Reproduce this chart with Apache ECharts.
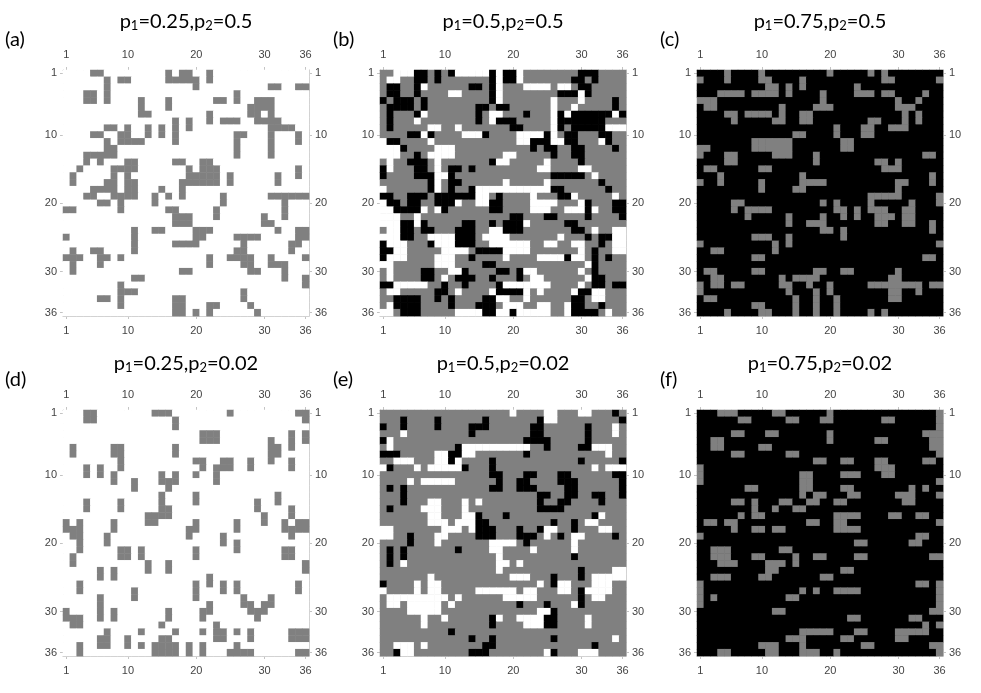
<!DOCTYPE html>
<html><head><meta charset="utf-8">
<script src="https://cdn.jsdelivr.net/npm/echarts/dist/echarts.min.js"></script>
<style>html,body{margin:0;padding:0;background:#fff}#c{width:981px;height:693px}</style>
</head><body><div id="c"></div><script>
const N = 36;
const categories = Array.from({length: N}, (_, i) => String(i + 1));
const tickLabels = ['1', '10', '20', '30', '36'];
const titleP1 = ['0.25', '0.5', '0.75', '0.25', '0.5', '0.75'];
const titleP2 = ['0.5', '0.5', '0.5', '0.02', '0.02', '0.02'];
const panelLetters = ['(a)', '(b)', '(c)', '(d)', '(e)', '(f)'];

// values: 0 = white, 1 = gray, 2 = black
const aGray = [
[4,5,15,17,18,21],[6,8,9,15,16,17,18,19,21],[6,19,30,31,34,35],[3,4,6,25],
[3,4,6,11,15,22,23,25,28,29,30],[11,15,27,28,29,30],[11,12,21,27,28,30],
[16,18,21,23,24,25,28,29,30,31],[6,7,9,12,14,16,18,30,31,32,33],
[4,5,8,9,12,14,16,25,26,30,34],[6,8,9,10,11,16,25,30,34],[6,7,25,30],
[3,4,5,6,7,25,30],[3,5,9,10,16,17,20,21],[2,7,8,9,10,18,20,21,22,34],
[1,7,9,18,19,20,21,22,24,31,34],[1,6,7,9,10,17,18,19,20,21,22,24,31],
[4,5,6,7,9,10,14,17],[3,4,7,8,9,10,13,15,17,23,30,31,32,33,34,35],
[5,6,8,13,23,32],[0,1,8,15,16,22,32],[16,17,18,22,29,32],[16,17,18,29,30],
[10,13,14,19,20,21,31,34,35],[0,10,19,20,25,26,27,28,34,35],[10,16,17,18,19,26,33,34],
[1,4,5,10,25,26,33],[0,1,2,5,6,8,21,24,25,26,27,30,35],[1,5,21,26,27,30,31,32],
[1,17,18,27,28,32],[10,11,32,35],[8,35],[8,9,10,26],[5,6,8,16,17,26],
[8,16,17,21,22,27],[16,17,19,21,28]];

const bWhite = [
[2,3,4,11,12,13,14,15,17,20],[1,2,17,20],[6,17,21,22,23,24,26,27],[10,11,17,29],
[17,25,29],[25,28],[6,16,17,25,27,34],[5,16,25],[7,8,11,25,33,34,35],
[6,12,13,14,20,21,22,23,25],[0,7,20,21,25,26,32],[0,1,2,8,9,10],
[0,1,2,7,8,9,10,18,19],[1,8,17,18,24],[1,8,23,24,29,30],[8,9,31],[8,18,24],
[0,8,14,15,16,17,18,19,20,21,22,23,24],[14,15,22,28,34],[0,11,14,15,22,23,24,25,29],
[0,1,6,8,22,23,24,27,28,29,31],[0,1,2,5],[0,1,2,5,21],[1,2,16,17,31,34,35],
[0,1,2,7,8,9,10,15,16,17,18,26,34,35],[1,2,3,8,9,10,16,17,18,19,20,21,24,25,28,29,34,35],
[2,3,9,10,11,12,18,19,20,21,29,34,35],[1,2,3,8,9,10,18,23,24,25,26,28,29],
[0,1,8,9,10,30],[1,10,11,21,22,29],[1,9,22,23,30],[2,3,4,5,6,18,19,20,21,22,23,24,29],
[1,2,11,16,21,23,28,31,32],[17,18,21,31,32],[1,18,19,20,23,24,27],
[0,1,11,12,13,14,17,18,20,21,22,23,24,27,33]];
const bBlack = [
[5,6,8,10,16,18,19,29,30,31],[5,6,8,16,18,19,28,29,31],[1,2,5,13,14,16,29,30],
[1,2,5,16,26,27,28,30],[0,2,3,4,6,16,34],[1,2,3,4,6,14,15,17,18,34],
[1,5,14,21,26,28,29,30,31,32,33,35],[1,14,17,18,19,26,27,28,29,30,31,32],
[1,19,20,26,28,29,30,31,32],[4,5,7,15,24,27,28,32,33],[1,2,22,23,24,27,28,33],
[3,22,24,25,28,29,34],[5,25,28,29],[4,5,6,16,29],[0,5,6,10,11,13],
[0,5,6,7,10,25,26,27,28,29],[7,10,11,32],[7,10,13,25,26,33],
[0,1,4,5,6,8,9,10,11,12,13,17,26,27],[1,2,4,5,8,9,10,16,17,30,34,35],
[2,3,4,5,9,16,17,30,34,35],[19,20,24,25,30,35],[3,4,6,12,13,16,18,19,20,27,28],
[3,4,6,7,11,12,13,18,19,20,28,29],[3,4,11,12,13,30,32,33],[0,7,11,12,13,32],
[0,1,14,15,16,17,31],[0,13,27,31,33],[15,16,31],[6,7,12,17,18,20,31],
[6,7,11,12,13,16,20,31,32],[0,1,9,12,17,31,32,34,35],[8,9,17,18,19,20,29,30],
[2,3,4,5,8,10,15,16,28,29],[2,3,4,5,10,14,15,16,28,29,32],[3,4,5,15,16,19,28,29,30,31]];

const cGray = [
[4,9,19,25,27],[0,4,9,10,15,27,28,35],[10,11,13,15,23],
[3,4,5,6,8,9,10,11,13,18,23,24,25,27,28,33],[0,1,2,18,29,32],[1,2,12,17,18,19,29,30,31],
[4,5,7,8,9,10,12,15,16,30,32],[5,11,12,15,16,25,26,30,32],[20,24,25,28,29,30],
[14,15,20,24,25],[8,9,10,11,12,13,21,22],[0,1,8,9,10,11,12,13,21,22],
[0,4,5,11,12,13,17,33,34],[4,5,17,26,27,29],[1,2,9,10,27,28,29],[3,15,34],
[0,3,9,15,16,17,18,29,30,34],[9,14,15,29],[25,26,27,28,29,35],[5,6,18,20,25,31,35],
[5,7,8,9,10,20,21,23,25,26,27,30,31],[7,13,18,21,23,26,27,28,30,31],
[13,16,17,18,26,27,30,31,34],[18,19,21,34],[8,9,10,13,21],[0,11,13,35],[2,3,11],
[8,9,33,34],[],[1,2,8,9,17,18,21,22,29],[2,3,12,14,15,16,17,28,29],
[0,2,3,5,6,12,13,16,19,25,26,27,28,29,30,31,32,34,35],[0,13,17,19,28,29,32],
[1,2,14,17,20,28,29],[8,9,14,17,20],[4,9,10,14,17,20,25,27]];

const dGray = [
[3,4,13,14,15,24,34,35],[3,4,16,35],[16],[20,21,22,33,35],[20,21,22,30,33,35],
[1,7,8,16,30,31,33],[1,7,8,16,30,31],[8,19,20,23,24,27,30,33],[3,5,8,20,22,23,24,27,33],
[3,5,7,14,16,19,22],[7,10,14,15,16,22],[10,15],[14,19,31],[3,8,14,19,28,31],
[3,8,14,15,28,33],[12,13,14,15,29,33],[0,2,7,12,13,19,25,29,32,34,35],
[0,1,2,7,18,19,25,32,33,34,35],[1,2,6,18,23,33],[2,6,23,25],[2,8,9,11,19,25,32,33],
[1,8,9,11,19,32,33],[1,12,15,35],[5,7,12,15,35],[5,7,21],[2,19,21,23,25,34],
[2,10,19,23,25,34],[5,10,19,26,30],[5,21,26,27,29,30],[0,5,7,15,20,21,27,28,29],
[0,1,2,5,7,15,20,28],[1,2,14,22],[6,11,16,20,22,23,25,27,33,34,35],
[5,6,9,14,15,22,23,27,33,34,35],[2,5,6,9,11,13,14,15,16,18,20,25],
[2,13,14,15,16,18,20,24,25,26,27,34,35]];

const eWhite = [
[19,24,25,29,30],[24,25],[34],[3,34],[1],[1,12,13,14,15,16,17,18,19,20,21,31,32,33],
[8,9,12,13,33],[2,3,4,8,9,11],[0,5,7,8,9,10,11,31,33,34,35],[],[4,6,7,8,9,10],[],[],
[7,8,12,14],[6,7,8,12],[7,8,12,13,32],[7,8,9,11,12,13,30,31],[0,1,9,10,11,13,24,25,32,33],
[0,1,8,9,24,28,29],[8,16,17,18,19,28],[16,17,22,28],[17],[3,17,18,20],[17,34,35],
[7,19,20,21,31,32,33,34,35],[5,7,8,23,26,27,31,32,33],
[0,5,7,8,14,15,16,17,18,19,21,22,26,27,30,31,32,33],
[1,2,3,4,5,6,7,8,9,11,18,19,20,21,22,31,32],[1,2,4,5,6,7,8,10,28],[4,5,6,7,8,23,24],
[6,9,17,20,21,22,23,30],[6,21,22,23,30],[],[34],[2,3,4,6],[3,4,24,29,30,31]];
const eBlack = [
[34],[3,8,15,23,35],[0,3,8,13,14,15,22,23,30],[13,22,23,30],[0,21,22,23,24,30],
[11,24,29,30],[0,1,2,10,11,21],[10,16,29,35],[1,12,16],[16,17,21,22,26,27,34,35],
[17,20,21,26,27,28,35],[1,3,16,17,20,21,22,27,28,35],[3,23,24,27,28,31,32,35],
[3,23,26,27,32],[1,23,24,25,26],[14,18,31],[14,15,25,28],[14,15,16,20,23,28],
[4,14,15,16,20,21,22,26,34],[4,21],[1,3,11],[1,3,28],[1],[29],[25,29],[0,25],[29],[29],
[20,24,29],[25],[16,24,25],[16,24,25],[10],[13,16,25],[15,16,31],[2,13,14,15,25]];

const fGray = [
[3,4,5,11,12,19,35],[6,7,13,14,18,19,27,28,35],[35],[5,6,10,11,19,33,34,35],
[2,3,19,26,27,34,35],[2,3,9,10,34,35],[5,6,13,14,35],[17,18,21,22,26,27,33,34],
[0,26,27,28],[0,15,16,21,22,23,27,28],[0,15,16,35],[7,8,15,16,21,22,31,33],
[15,17,18,22,23,29,30,31,35],[5,6,8,12,13,16,17,20,21,30,31],[8,11,14,15],
[6,8,9,20,21,22,23,28,29,32,33],[1,2,4,5,16,17,20,21,35],[5,8,9,11,12,20,21,22,23],
[0,32,33],[23,24,31,32],[2,3,4,12,13],[2,3,4,8,9,14,17,18,23,24,34,35],
[3,4,5,10,11,12,14],[10,11,21,22],[2,3,4,9,10,18,19],[0,32,33,35],
[0,15,17,20,21,22,23,35],[0,2,13,14,35],[0,35],[11,12,34,35],[22,23,31,32],[33,35],
[15,16,17,18,19,23,24,29,30,31,32,33],[13,14,15,21,22,29,30],[9,10,11,15,24,25,34,35],
[3,4,10,11,15,16,17,20,35]];

const backgrounds = [0, 1, 2, 0, 1, 2];
function buildMatrix(bg, layers) {
  const data = [];
  for (let r = 0; r < N; r++) {
    const row = new Array(N).fill(bg);
    layers.forEach(([val, rows]) => (rows[r] || []).forEach(c => { row[c] = val; }));
    for (let c = 0; c < N; c++) data.push([c, r, row[c]]);
  }
  return data;
}
const panels = [
  buildMatrix(backgrounds[0], [[1, aGray]]),
  buildMatrix(backgrounds[1], [[0, bWhite], [2, bBlack]]),
  buildMatrix(backgrounds[2], [[1, cGray]]),
  buildMatrix(backgrounds[3], [[1, dGray]]),
  buildMatrix(backgrounds[4], [[0, eWhite], [2, eBlack]]),
  buildMatrix(backgrounds[5], [[1, fGray]])
];

const palette = ['#ffffff', '#808080', '#000000'];
const gridLefts = [63, 380, 697];
const gridTops = [70, 410];
const letterX = [5, 333, 660];
const SIZE = 246;
const showTick = (i, v) => tickLabels.indexOf(v) >= 0;
const axisColor = '#c4c4c4';
const labelStyle = { color: '#444', fontSize: 11, fontFamily: 'Liberation Sans, Arial, sans-serif' };

const grid = [], xAxis = [], yAxis = [], series = [], graphic = [];
panels.forEach((data, p) => {
  const col = p % 3, row = Math.floor(p / 3);
  grid.push({ left: gridLefts[col], top: gridTops[row], width: SIZE, height: SIZE,
    show: true, backgroundColor: palette[backgrounds[p]], borderWidth: 0 });
  ['bottom', 'top'].forEach(pos => xAxis.push({
    type: 'category', data: categories, gridIndex: p, position: pos,
    axisLine: { show: true, lineStyle: { color: axisColor } },
    axisTick: { show: true, interval: showTick, alignWithLabel: true, length: 3, lineStyle: { color: '#c4c4c4' } },
    axisLabel: Object.assign({ interval: showTick, margin: pos === 'top' ? 10 : 9 }, labelStyle),
    splitLine: { show: false }
  }));
  ['left', 'right'].forEach(pos => yAxis.push({
    type: 'category', data: categories, gridIndex: p, position: pos, inverse: true,
    axisLine: { show: true, lineStyle: { color: axisColor } },
    axisTick: { show: true, interval: showTick, alignWithLabel: true, length: 3, lineStyle: { color: '#c4c4c4' } },
    axisLabel: Object.assign({ interval: showTick, margin: 6 }, labelStyle),
    splitLine: { show: false }
  }));
  series.push({
    type: 'heatmap', xAxisIndex: 2 * p, yAxisIndex: 2 * p, data: data,
    itemStyle: { borderWidth: 0 }, emphasis: { disabled: true }, progressive: 0
  });
  const cx = gridLefts[col] + SIZE / 2;
  const ty = row === 0 ? 20 : 362;
  graphic.push({
    type: 'text', x: cx, y: ty,
    style: {
      text: '{n|p}{s|1}{n|=' + titleP1[p] + ',p}{s|2}{n|=' + titleP2[p] + '}',
      align: 'center', verticalAlign: 'middle',
      rich: {
        n: { fontSize: 20, lineHeight: 24, fontFamily: 'Lato, Open Sans, sans-serif', fill: '#000', verticalAlign: 'bottom' },
        s: { fontSize: 13, lineHeight: 10, fontFamily: 'Lato, Open Sans, sans-serif', fill: '#000', verticalAlign: 'bottom' }
      }
    }
  });
  graphic.push({
    type: 'text', x: letterX[col], y: row === 0 ? 40 : 380,
    style: { text: panelLetters[p], fontSize: 20, fontFamily: 'Lato, Open Sans, sans-serif', fill: '#000', verticalAlign: 'middle' }
  });
});

const chart = echarts.init(document.getElementById('c'), null, { renderer: 'canvas' });
chart.setOption({
  animation: false,
  backgroundColor: '#fff',
  grid, xAxis, yAxis, series, graphic,
  visualMap: {
    type: 'piecewise', show: false, dimension: 2, seriesIndex: [0, 1, 2, 3, 4, 5],
    pieces: [
      { value: 0, color: palette[0] },
      { value: 1, color: palette[1] },
      { value: 2, color: palette[2] }
    ]
  }
});
</script></body></html>
